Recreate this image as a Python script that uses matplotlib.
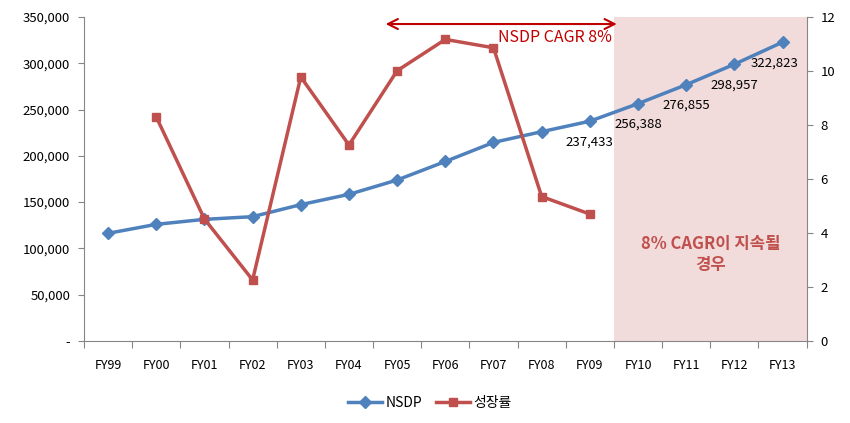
import matplotlib
matplotlib.use("Agg")
import matplotlib.pyplot as plt
from matplotlib.lines import Line2D
from matplotlib.ticker import FuncFormatter, FixedLocator, MultipleLocator

plt.rcParams['font.family'] = ['Noto Sans CJK KR', 'DejaVu Sans']

categories = ["FY99", "FY00", "FY01", "FY02", "FY03", "FY04", "FY05", "FY06",
              "FY07", "FY08", "FY09", "FY10", "FY11", "FY12", "FY13"]
nsdp = [116300, 126000, 131400, 134300, 147300, 158400, 173900, 193900,
        214500, 226100, 237433, 256388, 276855, 298957, 322823]
growth = [None, 8.30, 4.52, 2.26, 9.78, 7.26, 10.01, 11.17, 10.86, 5.35, 4.70,
          None, None, None, None]
label_years = ["FY09", "FY10", "FY11", "FY12", "FY13"]
shade_from, shade_to = "FY10", "FY13"
arrow_from, arrow_to = "FY05", "FY10"
arrow_text = "NSDP CAGR 8%"
shade_text = "8% CAGR이 지속될\n경우"

blue = "#4F81BD"
red = "#C0504D"
dark_red = "#C00000"
axis_gray = "#868686"

fig = plt.figure(figsize=(8.5, 4.23), dpi=100)
ax = fig.add_axes([0.0988, 0.1939, 0.949 - 0.0988, 0.9598 - 0.1939])
ax2 = ax.twinx()

x = list(range(len(categories)))
ax.set_xlim(-0.5, len(categories) - 0.5)
ax.set_ylim(0, 350000)
ax2.set_ylim(0, 12)

# shaded forecast region
i0 = categories.index(shade_from) - 0.5
i1 = categories.index(shade_to) + 0.5
ax.axvspan(i0, i1, color="#F2DCDB", zorder=0, lw=0)

ln1, = ax.plot(x, nsdp, color=blue, lw=2.5, marker="D", ms=6, zorder=3)
gx = [i for i, v in zip(x, growth) if v is not None]
gy = [v for v in growth if v is not None]
ln2, = ax2.plot(gx, gy, color=red, lw=2.5, marker="s", ms=6, zorder=3)

# data labels
for yr in label_years:
    i = categories.index(yr)
    dx = -6 if i == len(categories) - 1 else 0
    ax.annotate(f"{nsdp[i]:,}", (i, nsdp[i]), xytext=(dx, -15),
                textcoords="offset points", ha="center", va="center",
                fontsize=9.5, color="black", zorder=4)

# arrow
a0 = categories.index(arrow_from) - 0.24
a1 = categories.index(arrow_to) - 0.44
ax2.annotate("", xy=(a0, 11.74), xytext=(a1, 11.74),
             arrowprops=dict(arrowstyle="<->", color=dark_red, lw=1.5,
                             mutation_scale=18, shrinkA=0, shrinkB=0))
ax2.text(a1 - 0.1, 11.25, arrow_text, ha="right", va="center",
         fontsize=11.5, color=dark_red)

ax2.text((i0 + i1) / 2, 3.2, shade_text, ha="center", va="center",
         fontsize=12, fontweight="bold", color=red, linespacing=1.2)

# axes styling
for a in (ax, ax2):
    a.spines["top"].set_visible(False)
    for s in ("left", "right", "bottom"):
        a.spines[s].set_color(axis_gray)
ax.spines["right"].set_visible(False)
ax2.spines["left"].set_visible(False)
ax2.spines["bottom"].set_visible(False)

ax.yaxis.set_major_locator(MultipleLocator(50000))
ax.yaxis.set_major_formatter(FuncFormatter(lambda v, p: "-" if v == 0 else f"{int(v):,}"))
ax2.yaxis.set_major_locator(MultipleLocator(2))
ax.tick_params(axis="y", colors=axis_gray, labelcolor="black", labelsize=9.5, length=4, pad=6)
ax2.tick_params(axis="y", colors=axis_gray, labelcolor="black", labelsize=9.5, length=4, pad=6)

ax.xaxis.set_major_locator(FixedLocator([i - 0.5 for i in range(len(categories) + 1)]))
ax.xaxis.set_minor_locator(FixedLocator(x))
ax.xaxis.set_major_formatter(FuncFormatter(lambda v, p: ""))
ax.set_xticklabels(categories, minor=True)
ax.tick_params(axis="x", which="major", colors=axis_gray, length=5)
ax.tick_params(axis="x", which="minor", length=0, labelsize=9, pad=13, labelcolor="black")

handles = [Line2D([], [], color=blue, lw=2.5, marker="D", ms=6),
           Line2D([], [], color=red, lw=2.5, marker="s", ms=6)]
fig.legend(handles, ["NSDP", "성장률"], loc="center", bbox_to_anchor=(0.506, 0.047),
           ncol=2, frameon=False, fontsize=10, handlelength=2.4, handletextpad=0.3,
           columnspacing=1.0)

fig.savefig("out.png", dpi=100)
